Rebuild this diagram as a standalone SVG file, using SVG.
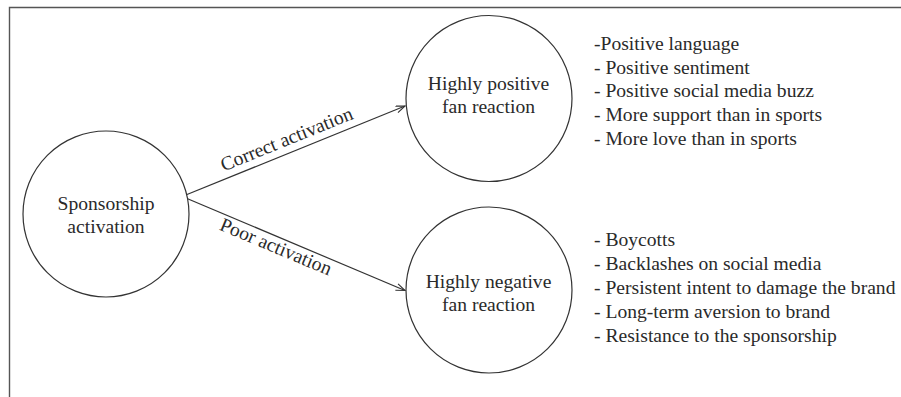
<svg xmlns="http://www.w3.org/2000/svg" width="901" height="397" viewBox="0 0 901 397">
<style>
.node{fill:#fff;stroke:#333;stroke-width:1.2}
.t{font-family:"Liberation Serif","Times New Roman",serif;font-size:19.6px;fill:#2a2a2a}
.c{text-anchor:middle}
.edge{stroke:#333;stroke-width:1.2;fill:none}
.frame{stroke:#555;stroke-width:1.4;fill:none}
</style>
<defs>
<marker id="arr" markerUnits="userSpaceOnUse" markerWidth="12" markerHeight="10" refX="10" refY="4" orient="auto">
<path d="M1,0.5 L10,4 L1,7.5" fill="none" stroke="#333" stroke-width="1.1"/>
</marker>
</defs>
<rect width="901" height="397" fill="#fff"/>
<path class="frame" d="M9.5,397 L9.5,7.5 L901,7.5"/>
<g id="connectors">
<line class="edge" x1="187" y1="194.5" x2="405" y2="106" marker-end="url(#arr)"/>
<line class="edge" x1="187" y1="198.5" x2="405" y2="290.5" marker-end="url(#arr)"/>
<text class="t c" transform="translate(289,145) rotate(-22.1)">Correct activation</text>
<text class="t c" transform="translate(273.5,252.5) rotate(22.8)">Poor activation</text>
</g>
<g id="sponsorship">
<circle class="node" cx="106" cy="214" r="83"/>
<text class="t c" x="106" y="209.5">Sponsorship</text>
<text class="t c" x="106" y="232.5">activation</text>
</g>
<g id="positive">
<circle class="node" cx="489" cy="98.5" r="83"/>
<text class="t c" x="488.5" y="90">Highly positive</text>
<text class="t c" x="488.5" y="113">fan reaction</text>
</g>
<g id="negative">
<circle class="node" cx="489" cy="290" r="83"/>
<text class="t c" x="488.5" y="288">Highly negative</text>
<text class="t c" x="488.5" y="311">fan reaction</text>
</g>
<g id="positive-list">
<text class="t" x="594" y="50">-Positive language</text>
<text class="t" x="594" y="73.7">- Positive sentiment</text>
<text class="t" x="594" y="97.4">- Positive social media buzz</text>
<text class="t" x="594" y="121">- More support than in sports</text>
<text class="t" x="594" y="144.7">- More love than in sports</text>
</g>
<g id="negative-list">
<text class="t" x="594" y="246">- Boycotts</text>
<text class="t" x="594" y="270">- Backlashes on social media</text>
<text class="t" x="594" y="293.8">- Persistent intent to damage the brand</text>
<text class="t" x="594" y="317.7">- Long-term aversion to brand</text>
<text class="t" x="594" y="341.6">- Resistance to the sponsorship</text>
</g>
</svg>
